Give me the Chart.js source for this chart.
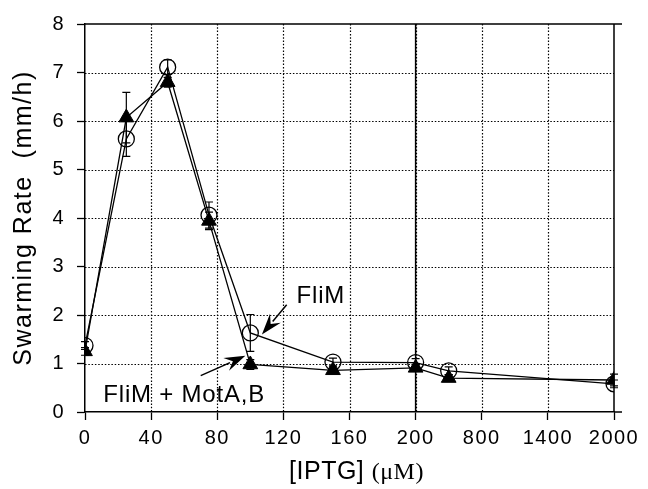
<!DOCTYPE html>
<html><head><meta charset="utf-8">
<script src="https://cdn.jsdelivr.net/npm/chart.js@4/dist/chart.umd.min.js"></script>
<style>html,body{margin:0;padding:0;background:#fff}#wrap{width:648px;height:489px}</style>
</head><body><div id="wrap"><canvas id="c" width="648" height="489"></canvas></div>
<script>
// ---- data ----
const iptgConc = [0, 25, 50, 75, 100, 150, 200, 500, 2000];
const fliMRate = [1.37, 5.63, 7.11, 4.06, 1.63, 1.03, 1.02, 0.85, 0.58];
const fliMErr = [0.08, 0.36, 0.15, 0.27, 0.38, 0.08, 0.08, 0.08, 0.08];
const motRate = [1.25, 6.07, 6.80, 3.94, 0.98, 0.86, 0.91, 0.70, 0.66];
const motErr = [0.08, 0.52, 0.10, 0.18, 0.10, 0.07, 0.07, 0.07, 0.12];
const xTickLabels = ['0', '40', '80', '120', '160', '200', '800', '1400', '2000'];
const seriesNames = ['FliM', 'FliM + MotA,B'];

// broken axis: linear up to 200, then 600 units per tick interval
function axisPos(v) { return v <= 200 ? v : 200 + (v - 200) * 40 / 600; }

const SANS = '"Liberation Sans", Arial, Helvetica, sans-serif';
const SERIF = '"Liberation Serif", "Times New Roman", serif';

const annotations = [
  { text: seriesNames[0], x: 128, y: 2.25, align: 'left', tail: [122, 2.21], tip: [107, 1.60] },
  { text: seriesNames[1], x: 60, y: 0.2, align: 'center', tail: [70, 0.75], tip: [97, 1.16] }
];

const frameAndErrors = {
  id: 'frameAndErrors',
  beforeDraw(chart) { chart.ctx.letterSpacing = '1.5px'; },
  beforeDatasetsDraw(chart) {
    const { ctx, chartArea: a, scales: { x, y } } = chart;
    ctx.save();
    ctx.letterSpacing = '0px';
    // dotted grid
    ctx.strokeStyle = '#000';
    ctx.lineWidth = 1.2;
    ctx.setLineDash([1.5, 1.8]);
    ctx.beginPath();
    x.ticks.forEach(t => {
      const px = Math.round(x.getPixelForValue(t.value)) + 0.5;
      if (px > a.left + 1 && px < a.right - 1) { ctx.moveTo(px, a.top); ctx.lineTo(px, a.bottom); }
    });
    y.ticks.forEach(t => {
      const py = Math.round(y.getPixelForValue(t.value)) + 0.5;
      if (py > a.top + 1 && py < a.bottom - 1) { ctx.moveTo(a.left, py); ctx.lineTo(a.right, py); }
    });
    ctx.stroke();
    // solid frame parts
    ctx.setLineDash([]);
    ctx.lineWidth = 1.5;
    ctx.beginPath();
    ctx.moveTo(a.left, a.top); ctx.lineTo(a.right + 8, a.top);
    ctx.moveTo(a.right, a.top); ctx.lineTo(a.right, a.bottom);
    const x200 = x.getPixelForValue(axisPos(200));
    ctx.moveTo(x200, a.top); ctx.lineTo(x200, a.bottom);
    ctx.moveTo(a.right, a.bottom); ctx.lineTo(a.right + 8, a.bottom);
    ctx.stroke();
    // error bars
    ctx.lineWidth = 1.2;
    const sets = [[fliMRate, fliMErr], [motRate, motErr]];
    sets.forEach(([vals, errs]) => {
      vals.forEach((v, i) => {
        const px = x.getPixelForValue(axisPos(iptgConc[i]));
        const yt = y.getPixelForValue(v + errs[i]);
        const yb = y.getPixelForValue(v - errs[i]);
        ctx.beginPath();
        ctx.moveTo(px, yt); ctx.lineTo(px, yb);
        ctx.moveTo(px - 4, yt); ctx.lineTo(px + 4, yt);
        ctx.moveTo(px - 4, yb); ctx.lineTo(px + 4, yb);
        ctx.stroke();
      });
    });
    ctx.restore();
  },
  afterDatasetsDraw(chart) {
    const { ctx, scales: { x, y } } = chart;
    ctx.save();
    ctx.letterSpacing = '0.8px';
    ctx.fillStyle = '#000';
    ctx.strokeStyle = '#000';
    ctx.font = '24px ' + SANS;
    ctx.textBaseline = 'alphabetic';
    annotations.forEach(an => {
      ctx.textAlign = an.align;
      ctx.fillText(an.text, x.getPixelForValue(an.x), y.getPixelForValue(an.y));
      const tx = x.getPixelForValue(an.tail[0]), ty = y.getPixelForValue(an.tail[1]);
      const hx = x.getPixelForValue(an.tip[0]), hy = y.getPixelForValue(an.tip[1]);
      const ang = Math.atan2(hy - ty, hx - tx);
      const L = 21, W = 7;
      const c = Math.cos(ang), s = Math.sin(ang);
      ctx.lineWidth = 1.5;
      ctx.beginPath(); ctx.moveTo(tx, ty); ctx.lineTo(hx - L * 0.8 * c, hy - L * 0.8 * s); ctx.stroke();
      ctx.beginPath();
      ctx.moveTo(hx, hy);
      ctx.lineTo(hx - L * c + W * s, hy - L * s - W * c);
      ctx.lineTo(hx - L * 0.65 * c, hy - L * 0.65 * s);
      ctx.lineTo(hx - L * c - W * s, hy - L * s + W * c);
      ctx.closePath(); ctx.fill();
    });
    // x axis title with mixed fonts
    const cx = (chart.chartArea.left + chart.chartArea.right) / 2 + 7;
    const by = 479;
    ctx.letterSpacing = '0.5px';
    ctx.font = '25px ' + SANS;
    const p1 = '[IPTG] ';
    const w1 = ctx.measureText(p1).width;
    ctx.font = '24px ' + SERIF;
    const p2 = '(\u03BCM)';
    const w2 = ctx.measureText(p2).width;
    const start = cx - (w1 + w2) / 2;
    ctx.textAlign = 'left';
    ctx.font = '25px ' + SANS;
    ctx.fillText(p1, start, by);
    ctx.font = '24px ' + SERIF;
    ctx.fillText(p2, start + w1, by);
    ctx.restore();
  }
};

const gridCommon = {
  color: '#000', lineWidth: 1, drawOnChartArea: false, drawTicks: true, tickLength: 8,
  tickColor: '#000', tickWidth: 1.3, tickBorderDash: []
};

new Chart(document.getElementById('c'), {
  type: 'line',
  data: {
    datasets: [
      {
        label: seriesNames[0],
        data: iptgConc.map((c, i) => ({ x: axisPos(c), y: fliMRate[i] })),
        borderColor: '#000', borderWidth: 1.3, tension: 0, fill: false,
        pointStyle: 'circle', pointRadius: 8, pointHoverRadius: 8,
        pointBackgroundColor: 'rgba(0,0,0,0)', pointBorderColor: '#000', pointBorderWidth: 1.3
      },
      {
        label: seriesNames[1],
        data: iptgConc.map((c, i) => ({ x: axisPos(c), y: motRate[i] })),
        borderColor: '#000', borderWidth: 1.3, tension: 0, fill: false,
        pointStyle: 'triangle', pointRadius: 8.5, pointHoverRadius: 8.5,
        pointBackgroundColor: '#000', pointBorderColor: '#000', pointBorderWidth: 1
      }
    ]
  },
  options: {
    responsive: false, animation: false, devicePixelRatio: 1,
    layout: { padding: { top: 18, right: 34, left: 0, bottom: 0 } },
    plugins: { legend: { display: false }, tooltip: { enabled: false } },
    scales: {
      x: {
        type: 'linear', min: 0, max: axisPos(2000),
        afterFit(s) { s.height = 77; },
        ticks: {
          stepSize: 40, autoSkip: false, maxRotation: 0, padding: 6, color: '#000',
          font: { family: SANS, size: 20 },
          callback: (v, i) => xTickLabels[i] ?? ''
        },
        grid: gridCommon,
        border: { display: true, color: '#000', width: 1.5 }
      },
      y: {
        min: 0, max: 8,
        afterFit(s) { s.width = 85; },
        ticks: { stepSize: 1, padding: 12, color: '#000', font: { family: SANS, size: 20 } },
        grid: gridCommon,
        border: { display: true, color: '#000', width: 1.5 },
        title: {
          display: true, text: 'Swarming Rate  (mm/h)', color: '#000',
          font: { family: SANS, size: 25 }, padding: { top: 9, bottom: 0 }
        }
      }
    }
  },
  plugins: [frameAndErrors]
});
</script>
</body></html>
